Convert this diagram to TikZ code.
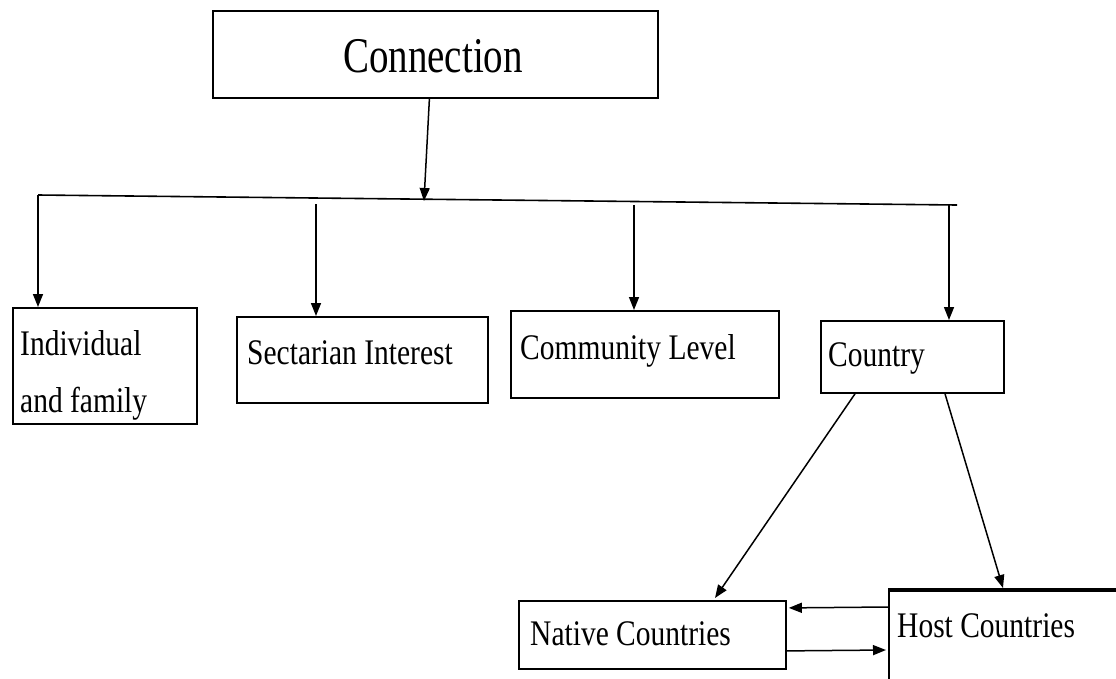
\documentclass[tikz,border=0pt]{standalone}
\usepackage{fontspec}
\setmainfont{Liberation Serif}
\usetikzlibrary{arrows.meta,calc}
\newcommand{\vstretch}[1]{\scalebox{1}[1.22]{#1}}
\begin{document}
\begin{tikzpicture}[x=1pt,y=-1pt,
  box/.style={draw, line width=1.8pt, rectangle, inner sep=0pt, anchor=north west},
  lbl/.style={anchor=base west, inner sep=0pt, font=\fontsize{29.5}{34}\selectfont},
  arr/.style={line width=1.5pt, -{Triangle[length=13pt,width=10pt]}},
  ln/.style={line width=1.6pt}]
\useasboundingbox (0,0) rectangle (1116,678);
% boxes
\node[box, minimum width=445pt, minimum height=87pt] (conn) at (212,10) {};
\node[box, minimum width=184pt, minimum height=116pt] (ind) at (12,307) {};
\node[box, minimum width=251pt, minimum height=86pt] (sect) at (236,316) {};
\node[box, minimum width=268pt, minimum height=87pt] (comm) at (510,310) {};
\node[box, minimum width=183pt, minimum height=72pt] (ctry) at (820,320) {};
\node[box, minimum width=267pt, minimum height=68pt] (nat) at (518,600) {};
\node[box, minimum width=240pt, minimum height=100pt] (host) at (888,590) {};
\draw[line width=3.5pt] (host.north west) -- (1116,590);
% texts
\node[anchor=base, inner sep=0pt, font=\fontsize{39}{44}\selectfont] (tconn) at (433,72) {\scalebox{1}[1.28]{Connection}};
\node[lbl] (tind1) at (20,355) {\vstretch{Individual}};
\node[lbl] (tind2) at (20,412) {\vstretch{and family}};
\node[lbl] (tsect) at (247,364) {\vstretch{Sectarian Interest}};
\node[lbl] (tcomm) at (520,359) {\vstretch{Community Level}};
\node[lbl] (tctry) at (828,366) {\vstretch{Country}};
\node[lbl] (tnat) at (530,645) {\vstretch{Native Countries}};
\node[lbl] (thost) at (897,637) {\vstretch{Host Countries}};
% bus
\coordinate (busL) at (38,195);
\coordinate (busR) at (957,205);
\coordinate (busC) at (424,201);
\coordinate (bS) at (316,204);
\coordinate (bC) at (634,205);
\coordinate (bK) at (949,205);
\draw[ln] (busL) -- (busR);
\draw[arr] ($(conn.south)+(-6,0)$) -- (busC);
\draw[arr] (busL) -- (busL |- ind.north);
\draw[arr] (bS) -- (bS |- sect.north);
\draw[arr] (bC) -- (bC |- comm.north);
\draw[arr] (bK) -- (bK |- ctry.north);
% country branches
\draw[arr] ($(ctry.south west)+(35,0)$) -- ($(nat.north west)+(197,-2)$);
\draw[arr] ($(ctry.south west)+(125,0)$) -- ($(host.north west)+(115,-2)$);
% native <-> host
\draw[arr] ($(host.north west)+(0,17)$) -- ($(nat.east)+(2,-27)$);
\draw[arr] ($(nat.east)+(0,16)$) -- ($(host.north west)+(-2,60)$);
\end{tikzpicture}
\end{document}
